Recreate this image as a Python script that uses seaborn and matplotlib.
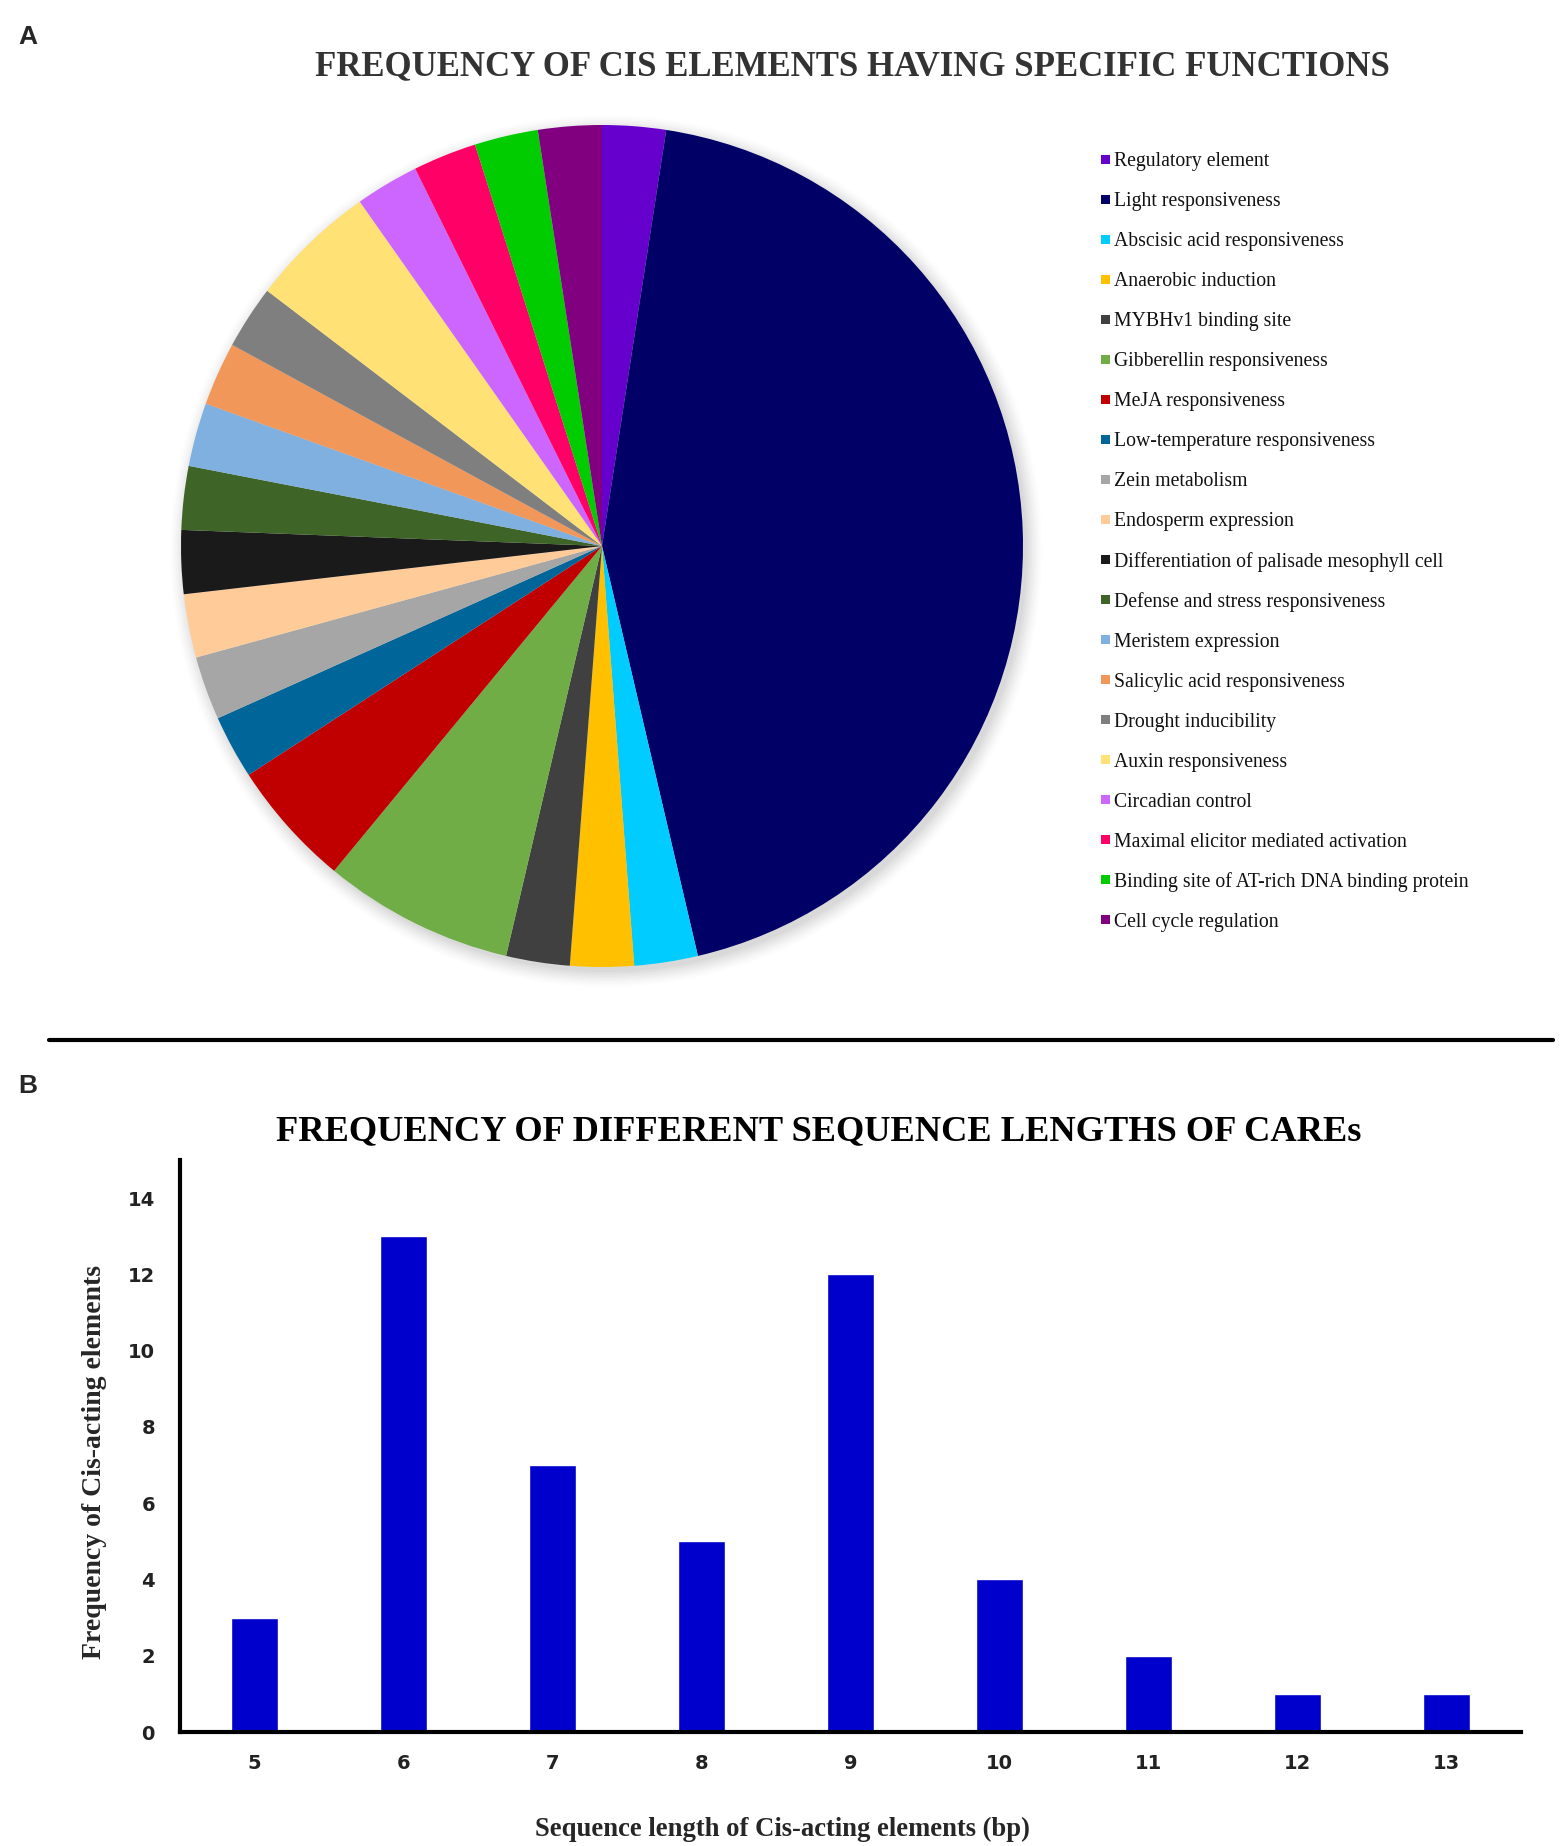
import numpy as np
import pandas as pd
import seaborn as sns
import matplotlib.pyplot as plt
from matplotlib.lines import Line2D
from matplotlib.patches import Circle, Rectangle

# pie data (panel A)
functions = ["Regulatory element", "Light responsiveness", "Abscisic acid responsiveness",
             "Anaerobic induction", "MYBHv1 binding site", "Gibberellin responsiveness",
             "MeJA responsiveness", "Low-temperature responsiveness", "Zein metabolism",
             "Endosperm expression", "Differentiation of palisade mesophyll cell",
             "Defense and stress responsiveness", "Meristem expression",
             "Salicylic acid responsiveness", "Drought inducibility", "Auxin responsiveness",
             "Circadian control", "Maximal elicitor mediated activation",
             "Binding site of AT-rich DNA binding protein", "Cell cycle regulation"]
counts = [1, 18, 1, 1, 1, 3, 2, 1, 1, 1, 1, 1, 1, 1, 1, 2, 1, 1, 1, 1]
pie_colors = ["#6600CC", "#000066", "#00CCFF", "#FFC000", "#404040", "#70AD47",
              "#C00000", "#006699", "#A6A6A6", "#FFCC99", "#1A1A1A", "#3F6428",
              "#7FB0DF", "#F2975A", "#7F7F7F", "#FFE175", "#CC66FF", "#FF0066",
              "#00CC00", "#800080"]

# bar data (panel B)
seq_len = ["5", "6", "7", "8", "9", "10", "11", "12", "13"]
freq = [3, 13, 7, 5, 12, 4, 2, 1, 1]

sns.set_theme(style="white")
plt.rcParams['font.family'] = ['Liberation Serif', 'DejaVu Serif']

W, H = 1562, 1846
fig = plt.figure(figsize=(W / 100, H / 100), dpi=100)
fig.patch.set_facecolor("white")

# ---- panel A: pie
cx, cy, r = 602, 546, 421
pad = 1.06
ax1 = fig.add_axes([(cx - r * pad) / W, 1 - (cy + r * pad) / H, 2 * r * pad / W, 2 * r * pad / H])
for rr, a in zip(np.linspace(1.035, 1.0, 7), [0.02, 0.03, 0.04, 0.05, 0.06, 0.07, 0.08]):
    ax1.add_patch(Circle((0.01, -0.012), rr, color="#888888", alpha=a, lw=0, zorder=0))
wedges, _ = ax1.pie(counts, colors=pie_colors, startangle=90, counterclock=False,
                    radius=1, wedgeprops=dict(linewidth=0), center=(0, 0))
ax1.set_xlim(-pad, pad)
ax1.set_ylim(-pad, pad)
ax1.set_aspect("auto")
ax1.axis("off")

# legend, one row every 40 px
for i, (name, col) in enumerate(zip(functions, pie_colors)):
    yy = 1 - (159 + i * 40.05) / H
    fig.add_artist(Rectangle((1101 / W, yy - 4.5 / H), 9 / W, 9 / H, facecolor=col,
                             edgecolor="none", transform=fig.transFigure))
    fig.text(1114 / W, yy, name, ha="left", va="center_baseline", fontsize=14.2,
             color="#111111")

fig.text(852 / W, 1 - 67 / H, "FREQUENCY OF CIS ELEMENTS HAVING SPECIFIC FUNCTIONS",
         ha="center", va="center", fontsize=25, fontweight="bold", color="#333333")
fig.text(18 / W, 1 - 37 / H, "A", ha="left", va="center", fontsize=19,
         fontweight="bold", family="Liberation Sans")

# divider
fig.add_artist(Line2D([49 / W, 1553 / W], [1 - 1040 / H, 1 - 1040 / H],
                      color="black", lw=3, transform=fig.transFigure))

# ---- panel B: bars
fig.text(18 / W, 1 - 1086 / H, "B", ha="left", va="center", fontsize=19,
         fontweight="bold", family="Liberation Sans")
fig.text(819 / W, 1 - 1132 / H, "FREQUENCY OF DIFFERENT SEQUENCE LENGTHS OF CAREs",
         ha="center", va="center", fontsize=26.2, fontweight="bold", color="black")

ax2 = fig.add_axes([180 / W, 1 - 1732 / H, (1521 - 180) / W, (1732 - 1160) / H])
df = pd.DataFrame({"len": seq_len, "freq": freq})
sns.barplot(data=df, x="len", y="freq", ax=ax2, color="#0000CC", saturation=1, width=0.31)
ax2.set_xlim(-0.5, 8.5)
ax2.set_ylim(0, 15)
ax2.set_yticks(range(0, 15, 2))
sns.despine(ax=ax2)
for s in ["left", "bottom"]:
    ax2.spines[s].set_linewidth(3)
    ax2.spines[s].set_color("black")
ax2.tick_params(axis="both", length=0, labelsize=14)
ax2.tick_params(axis="y", pad=18)
ax2.tick_params(axis="x", pad=16)
for lab in ax2.get_xticklabels() + ax2.get_yticklabels():
    lab.set_family("DejaVu Sans")
    lab.set_fontweight("bold")
    lab.set_color("#222222")
ax2.set_xlabel("")
ax2.set_ylabel("")
ax2.set_facecolor("white")
fig.text(95 / W, 1 - 1462 / H, "Frequency of Cis-acting elements", rotation=90,
         ha="center", va="center", fontsize=20, fontweight="bold")
fig.text(782 / W, 1 - 1829 / H, "Sequence length of Cis-acting elements (bp)",
         ha="center", va="center", fontsize=19.2, fontweight="bold")

fig.savefig("out.png", dpi=100, facecolor="white")
